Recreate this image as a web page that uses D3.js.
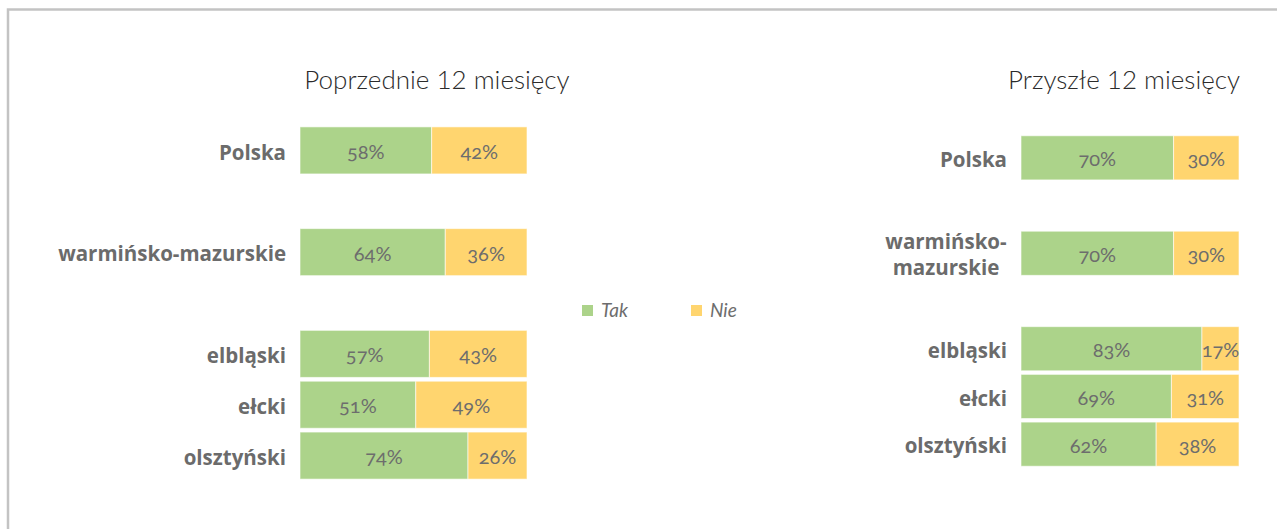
<!DOCTYPE html>
<html>
<head>
<meta charset="utf-8">
<script src="https://cdn.jsdelivr.net/npm/d3@7"></script>
<style>
  body { margin: 0; background: #fff; }
  svg { display: block; font-family: Lato, "Open Sans", sans-serif; }
  .cat { fill: #6b6b6b; font-family: "Open Sans", sans-serif; font-weight: 700; font-size: 20.5px; }
  .val { fill: #6d6d6d; font-size: 20px; font-variant-numeric: oldstyle-nums; font-feature-settings: "onum" 1; }
  .title { fill: #2b2b2b; font-weight: 300; font-size: 26px; }
  .leg { fill: #6d6d6d; font-size: 19px; font-style: italic; }
</style>
</head>
<body>
<div id="chart"></div>
<script>
// categories, blanks keep the gaps between groups
const categories = ["Polska", "_gap1", "warmińsko-mazurskie", "_gap2", "elbląski", "ełcki", "olsztyński"];
const series = ["Tak", "Nie"];

const tak_prev = [58, null, 64, null, 57, 51, 74];
const nie_prev = [42, null, 36, null, 43, 49, 26];
const tak_next = [70, null, 70, null, 83, 69, 62];
const nie_next = [30, null, 30, null, 17, 31, 38];

const colors = {Tak: "#acd38a", Nie: "#ffd56f"};

const width = 1277, height = 529;

const svg = d3.select("#chart").append("svg")
    .attr("width", width)
    .attr("height", height);

// frame
svg.append("path")
    .attr("d", `M8,${height} V9.5 H${width}`)
    .attr("fill", "none")
    .attr("stroke", "#c3c3c3")
    .attr("stroke-width", 2.5);

function draw_panel(cfg){
    const g = svg.append("g").attr("class", "panel");

    const x = d3.scaleLinear().domain([0, 100]).range([cfg.x0, cfg.x1]);
    const y = d3.scaleBand().domain(categories).range([cfg.y0, cfg.y1]).paddingInner(0.075).paddingOuter(0.037);

    const rows = categories.map((c, i) => ({cat: c, tak: cfg.tak[i], nie: cfg.nie[i]}))
        .filter(d => d.tak != null);

    const row = g.selectAll(".row")
        .data(rows)
        .join("g")
        .attr("class", "row")
        .attr("transform", d => `translate(0,${y(d.cat)})`);

    // segments
    row.each(function(d){
        const segs = [
            {key: "Tak", v0: 0, v1: d.tak},
            {key: "Nie", v0: d.tak, v1: d.tak + d.nie}
        ];
        const r = d3.select(this);
        r.selectAll("rect")
            .data(segs)
            .join("rect")
            .attr("x", s => x(s.v0))
            .attr("width", s => x(s.v1) - x(s.v0))
            .attr("height", y.bandwidth())
            .attr("fill", s => colors[s.key])
            .attr("stroke", "#fff")
            .attr("stroke-opacity", 0.6)
            .attr("stroke-width", 1);

        r.selectAll("text.val")
            .data(segs)
            .join("text")
            .attr("class", "val")
            .attr("x", s => x((s.v0 + s.v1) / 2))
            .attr("y", y.bandwidth() / 2 + 1.5)
            .attr("dy", "0.35em")
            .attr("text-anchor", "middle")
            .text(s => (s.v1 - s.v0) + "%");
    });

    // category labels
    row.each(function(d){
        const t = d3.select(this).append("text")
            .attr("class", "cat")
            .attr("y", y.bandwidth() / 2 + 2);
        const lines = (cfg.wrap && d.cat.includes("-")) ? [d.cat.split("-")[0] + "-", d.cat.split("-")[1]] : [d.cat];
        if(lines.length > 1){
            t.attr("text-anchor", "middle");
            lines.forEach((l, i) => {
                t.append("tspan")
                    .attr("x", cfg.wrapCenter)
                    .attr("dy", i == 0 ? "-0.3em" : "1.25em")
                    .text(l);
            });
        } else {
            t.attr("x", cfg.x0 - 14)
                .attr("dy", "0.35em")
                .attr("text-anchor", "end")
                .text(lines[0]);
        }
    });

    g.append("text")
        .attr("class", "title")
        .attr("x", cfg.titleX)
        .attr("y", 89)
        .attr("text-anchor", "middle")
        .text(cfg.title);
}

draw_panel({x0: 300, x1: 527, y0: 125, y1: 481, tak: tak_prev, nie: nie_prev,
    title: "Poprzednie 12 miesięcy", titleX: 437});
draw_panel({x0: 1021, x1: 1239, y0: 134, y1: 468, tak: tak_next, nie: nie_next,
    title: "Przyszłe 12 miesięcy", titleX: 1124, wrap: true, wrapCenter: 946});

// legend
const legend = svg.append("g")
    .selectAll("g")
    .data(series)
    .join("g")
    .attr("transform", (d, i) => `translate(${582 + i * 109},305)`);

legend.append("rect")
    .attr("width", 11)
    .attr("height", 11)
    .attr("fill", d => colors[d]);

legend.append("text")
    .attr("class", "leg")
    .attr("x", 19)
    .attr("y", 5.5)
    .attr("dy", "0.35em")
    .text(d => d);
</script>
</body>
</html>
